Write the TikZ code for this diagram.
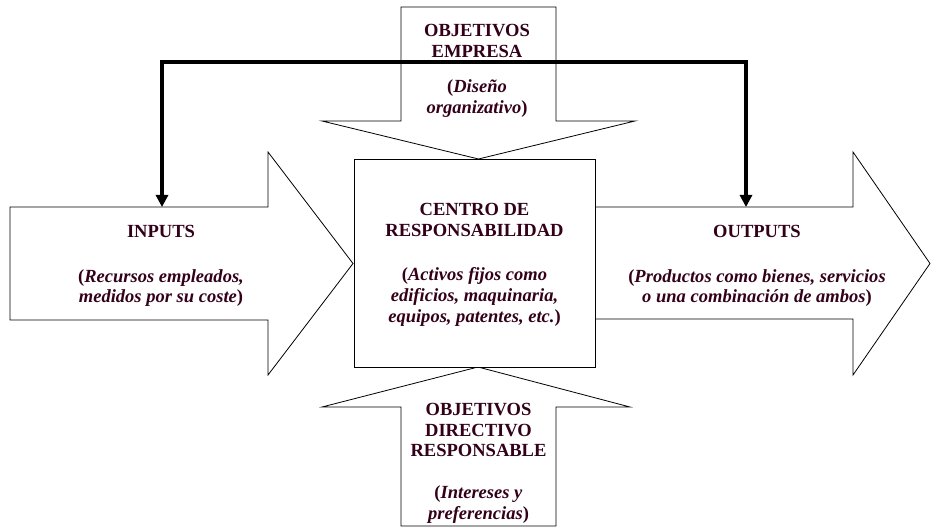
\documentclass[tikz,border=0pt]{standalone}
\usepackage{fontspec}
\setmainfont{Liberation Serif}
\usetikzlibrary{arrows.meta}
\definecolor{granate}{RGB}{51,0,25}
\begin{document}
\begin{tikzpicture}[x=0.75pt,y=-0.75pt,
    bloque/.style={draw=black, line width=0.6pt, fill=white},
    texto/.style={text=granate, align=center, inner sep=0pt, anchor=north,
        font=\fontsize{13.9pt}{15.5pt}\selectfont\bfseries},
    conector/.style={line width=2.6pt, {Triangle[length=9pt,width=9pt]}-{Triangle[length=9pt,width=9pt]}}]
    \useasboundingbox (0,0) rectangle (931,527);

    % Flecha de entrada
    \draw[bloque] (10,207) -- (268,207) -- (268,152) -- (353,263.5) -- (268,375) -- (268,320) -- (10,320) -- cycle;
    % Flecha de salida
    \draw[bloque] (595,207) -- (853,207) -- (853,152) -- (930,263.5) -- (853,375) -- (853,319) -- (595,319) -- cycle;
    % Flecha superior
    \draw[bloque] (401,7) -- (556,7) -- (556,121) -- (635,121) -- (478.5,159) -- (322,121) -- (401,121) -- cycle;
    % Flecha inferior
    \draw[bloque] (401,526) -- (401,407) -- (322,407) -- (478,367) -- (630,407) -- (556,407) -- (556,526) -- cycle;
    % Centro de responsabilidad
    \draw[bloque] (354,159) rectangle (595,367);

    % Textos
    \node[texto] (inputs) at (161,225) {INPUTS\\[18pt] (\textit{Recursos empleados,}\\ \textit{medidos por su coste})};
    \node[texto] (centro) at (474.5,203) {CENTRO DE\\ RESPONSABILIDAD\\[18pt] (\textit{Activos fijos como}\\ \textit{edificios, maquinaria,}\\ \textit{equipos, patentes, etc.})};
    \node[texto] (outputs) at (757,225) {OUTPUTS\\[18pt] (\textit{Productos como bienes, servicios}\\ \textit{o una combinación de ambos})};
    \node[texto] (empresa) at (477,24) {OBJETIVOS\\ EMPRESA\\[11pt] (\textit{Diseño}\\ \textit{organizativo})};
    \node[texto] (directivo) at (478.5,403) {OBJETIVOS\\ DIRECTIVO\\ RESPONSABLE\\[16pt] (\textit{Intereses y}\\ \textit{preferencias})};

    % Conector superior
    \coordinate (in-sup) at (162,207);
    \coordinate (out-sup) at (746,207);
    \coordinate (barra) at (454,62);
    \draw[conector] (in-sup) |- (barra) -| (out-sup);
\end{tikzpicture}
\end{document}
